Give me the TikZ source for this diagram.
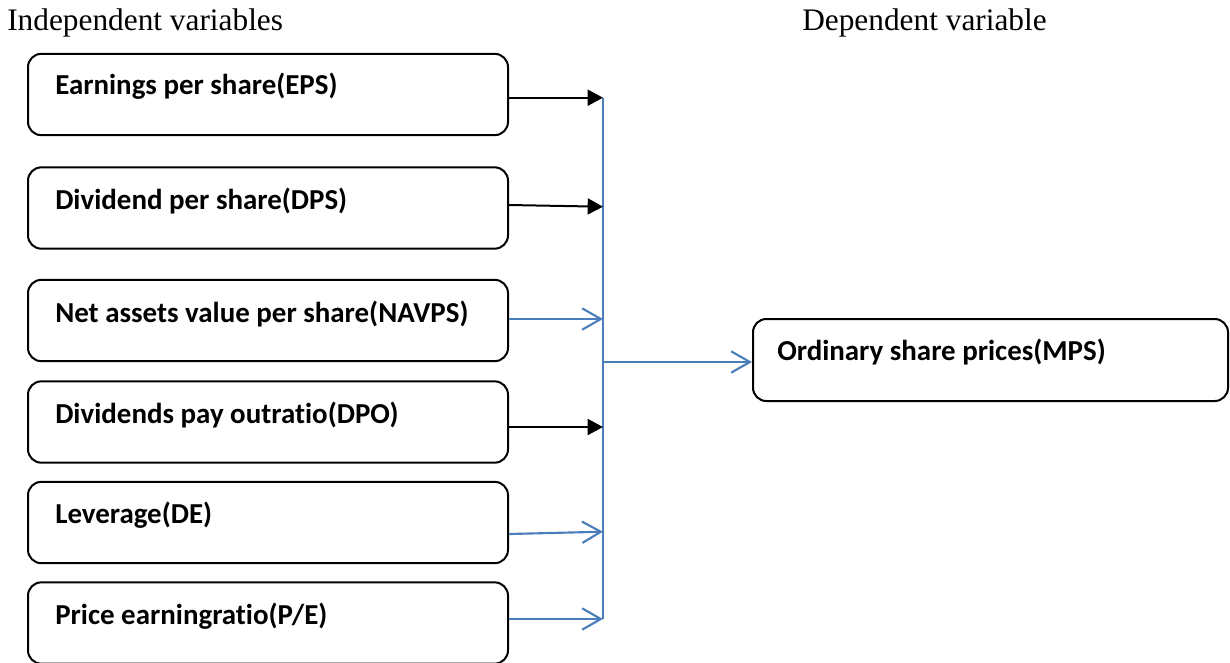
\documentclass[tikz,border=0pt]{standalone}
\usepackage{fontspec}
\setmainfont{Liberation Serif}
\newfontfamily\boxfont[Ligatures=NoCommon]{Carlito}
\usetikzlibrary{arrows.meta}
\definecolor{lineblue}{HTML}{4A7EBB}
\begin{document}
\begin{tikzpicture}[x=0.75pt,y=-0.75pt,
  box/.style={draw=black,line width=1.5pt,rounded corners=10pt,inner sep=0pt,minimum width=360pt,minimum height=61pt},
  lbl/.style={font=\boxfont\bfseries\fontsize{21.7}{24}\selectfont,anchor=base west,inner sep=0pt},
  head/.style={font=\fontsize{23.5}{26}\selectfont,inner sep=0pt},
  blk/.style={draw=black,line width=1.5pt,-{Triangle[length=11.5pt,width=12pt]}},
  bline/.style={draw=lineblue,line width=1.6pt},
  blu/.style={bline,-{Straight Barb[length=14pt,width=16pt,line width=1.6pt]}},
]
\useasboundingbox (0,0) rectangle (1230,662);
% headers
\node[head,anchor=base west] (h1) at (7,30) {Independent variables};
\node[head,anchor=base east] (h2) at (1047,30) {Dependent variable};
% boxes
\node[box] (b1) at (268,94.5) {};
\node[box] (b2) at (268,208) {};
\node[box] (b3) at (268,320.5) {};
\node[box] (b4) at (268,422) {};
\node[box] (b5) at (268,522.5) {};
\node[box] (b6) at (268,623) {};
\node[box,minimum width=356.25pt,minimum height=61.5pt] (mps) at (990.5,360) {};
% labels
\node[lbl] (t1) at (55,94) {Earnings per share(EPS)};
\node[lbl] (t2) at (55,209) {Dividend per share(DPS)};
\node[lbl] (t3) at (55,322) {Net assets value per share(NAVPS)};
\node[lbl] (t4) at (55,423) {Dividends pay outratio(DPO)};
\node[lbl] (t5) at (55,523) {Leverage(DE)};
\node[lbl] (t6) at (55,624) {Price earningratio(P/E)};
\node[lbl] (tm) at (777,360) {Ordinary share prices(MPS)};
% junction coordinates
\coordinate (j1) at (603,97.7);
\coordinate (j2) at (603,206.7);
\coordinate (j3) at (603,319);
\coordinate (j4) at (603,427);
\coordinate (j5) at (603,531.7);
\coordinate (j6) at (603,619);
\coordinate (jm) at (603,362);
\coordinate (s2) at (0,205);
\coordinate (s5) at (0,534);
% connectors
\draw[bline] (j1) -- (j6);
\draw[blk] (b1.east |- j1) -- (j1);
\draw[blk] (b2.east |- s2) -- (j2);
\draw[blu] (b3.east |- j3) -- (j3);
\draw[blk] (b4.east |- j4) -- (j4);
\draw[blu] (b5.east |- s5) -- (j5);
\draw[blu] (b6.east |- j6) -- (j6);
\draw[blu] (jm) -- (mps.west |- jm);
\end{tikzpicture}
\end{document}
